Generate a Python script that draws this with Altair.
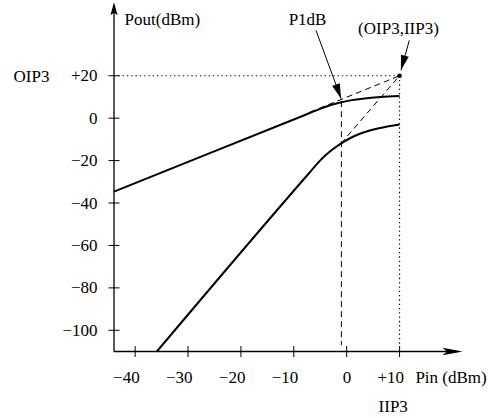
import altair as alt
import pandas as pd

# ---------------- data ----------------
fund_pin = [-44, -8, -5, -3, -1, 1, 3, 6.4, 10]
fund_pout = [-34.6, 1.4, 4.4, 6.2, 7.5, 8.5, 9.2, 10.0, 10.4]

im3_pin = [-35.9, -7, -5, -3, -1.1, 1, 3, 6.4, 10]
im3_pout = [-110, -25.6, -19.9, -15.4, -12.0, -9.0, -6.9, -4.6, -3.0]

fund_ext_pin = [-7, 10]
fund_ext_pout = [2.8, 20]
im3_ext_pin = [-1.1, 10]
im3_ext_pout = [-12.0, 20]

ip3_pin, ip3_pout = 10, 20
p1db_pin = -1.0
p1db_top, p1db_bottom = 8.0, -107.0

x_ticks = [-40, -30, -20, -10, 0, 10]
y_ticks = [-100, -80, -60, -40, -20, 0, 20]
x_min, x_max = -44, 22
y_min, y_max = -110, 55

# annotation arrows: start (label side) -> tip
p1db_arrow = [(-5.8, 41.4), (-1.05, 9.2)]
ip3_arrow = [(11.85, 36.7), (10.27, 22.6)]

texts = [
    ("Pout(dBm)", -42.0, 43.8, "left"),
    ("P1dB", -7.4, 43.8, "center"),
    ("(OIP3,IIP3)", 9.8, 39.9, "center"),
    ("OIP3", -63.0, 17.1, "left"),
    ("Pin (dBm)", 13.0, -125.0, "left"),
    ("IIP3", 8.8, -138.3, "center"),
]

FONT = "'Liberation Serif', 'Times New Roman', Times, serif"
FS = 17

xs = alt.Scale(domain=[x_min, x_max], nice=False, zero=False)
ys = alt.Scale(domain=[y_min, y_max], nice=False, zero=False)
xaxis = alt.Axis(
    values=x_ticks, domain=False, ticks=False, tickSize=0, grid=False, title=None,
    labelFont=FONT, labelFontSize=FS, labelColor="black", labelPadding=18,
    labelAlign="right", labelOffset=4,
    labelExpr="datum.value > 0 ? '+' + datum.label : datum.label",
)
yaxis = alt.Axis(
    values=y_ticks, domain=False, ticks=False, tickSize=0, grid=False, title=None,
    labelFont=FONT, labelFontSize=FS, labelColor="black", labelPadding=17,
    labelExpr="datum.value > 0 ? '+' + datum.label : datum.label",
)


def X(f):
    return alt.X(f, type="quantitative", scale=xs, axis=xaxis)


def Y(f):
    return alt.Y(f, type="quantitative", scale=ys, axis=yaxis)


def X2(f):
    return alt.X2(f)


def Y2(f):
    return alt.Y2(f)


# curves
fund_df = pd.DataFrame({"x": fund_pin, "y": fund_pout})
im3_df = pd.DataFrame({"x": im3_pin, "y": im3_pout})
fund = alt.Chart(fund_df).mark_line(color="black", strokeWidth=2, interpolate="monotone").encode(
    x=X("x"), y=Y("y"), order="x:Q")
im3 = alt.Chart(im3_df).mark_line(color="black", strokeWidth=2, interpolate="monotone").encode(
    x=X("x"), y=Y("y"), order="x:Q")

# dashed extrapolations
ext_df = pd.DataFrame({
    "x": [fund_ext_pin[0], im3_ext_pin[0]],
    "y": [fund_ext_pout[0], im3_ext_pout[0]],
    "x2": [fund_ext_pin[1], im3_ext_pin[1]],
    "y2": [fund_ext_pout[1], im3_ext_pout[1]],
})
ext = alt.Chart(ext_df).mark_rule(color="black", strokeWidth=1, strokeDash=[6, 4]).encode(
    x=X("x"), y=Y("y"), x2=X2("x2"), y2=Y2("y2"))

# vertical dashed at P1dB
p1_df = pd.DataFrame({"x": [p1db_pin], "y": [p1db_top], "y2": [p1db_bottom]})
p1 = alt.Chart(p1_df).mark_rule(color="black", strokeWidth=1, strokeDash=[6, 4]).encode(
    x=X("x"), y=Y("y"), y2=Y2("y2"))

# dotted guide lines to IP3
dot_df = pd.DataFrame({
    "x": [x_min, ip3_pin], "y": [ip3_pout, ip3_pout],
    "x2": [ip3_pin, ip3_pin], "y2": [ip3_pout, y_min],
})
dots = alt.Chart(dot_df).mark_rule(color="black", strokeWidth=1.2, strokeDash=[1.3, 3]).encode(
    x=X("x"), y=Y("y"), x2=X2("x2"), y2=Y2("y2"))

ip3_df = pd.DataFrame({"x": [ip3_pin], "y": [ip3_pout]})
ip3 = alt.Chart(ip3_df).mark_point(filled=True, color="black", opacity=1, size=22, shape="circle").encode(
    x=X("x"), y=Y("y"))

# axes lines with arrows
axl_df = pd.DataFrame({
    "x": [x_min, x_min], "y": [y_min, y_min],
    "x2": [x_min, x_max - 1], "y2": [y_max - 2, y_min],
})
axl = alt.Chart(axl_df).mark_rule(color="black", strokeWidth=1.3).encode(
    x=X("x"), y=Y("y"), x2=X2("x2"), y2=Y2("y2"))

yarrow_df = pd.DataFrame({"x": [x_min], "y": [y_max - 0.3]})
yarrow = alt.Chart(yarrow_df).mark_point(
    filled=True, color="black", opacity=1, size=169,
    shape="M0,0 L0.55,2 L0,1.65 L-0.55,2 Z").encode(x=X("x"), y=Y("y"))
xarrow_df = pd.DataFrame({"x": [x_max - 0.1], "y": [y_min]})
xarrow = alt.Chart(xarrow_df).mark_point(
    filled=True, color="black", opacity=1, size=400,
    shape="M0,0 L-2,-0.38 L-1.55,0 L-2,0.38 Z").encode(x=X("x"), y=Y("y"))

# tick marks crossing the axes
xt_df = pd.DataFrame({"x": x_ticks, "y": [y_min] * len(x_ticks)})
xt = alt.Chart(xt_df).mark_tick(orient="vertical", size=11, thickness=1, color="black", opacity=1).encode(
    x=X("x"), y=Y("y"))
yt_df = pd.DataFrame({"x": [x_min] * len(y_ticks), "y": y_ticks})
yt = alt.Chart(yt_df).mark_tick(orient="horizontal", size=11, thickness=1, color="black", opacity=1).encode(
    x=X("x"), y=Y("y"))

# annotation arrows
arr_df = pd.DataFrame({
    "x": [p1db_arrow[0][0], ip3_arrow[0][0]],
    "y": [p1db_arrow[0][1], ip3_arrow[0][1]],
    "x2": [p1db_arrow[1][0], ip3_arrow[1][0]],
    "y2": [p1db_arrow[1][1], ip3_arrow[1][1]],
})
arr = alt.Chart(arr_df).mark_rule(color="black", strokeWidth=1).encode(
    x=X("x"), y=Y("y"), x2=X2("x2"), y2=Y2("y2"))

head_shape = "M0,0 L0.27,1 L-0.27,1 Z"
h1 = alt.Chart(pd.DataFrame({"x": [p1db_arrow[1][0]], "y": [p1db_arrow[1][1]]})).mark_point(
    filled=True, color="black", opacity=1, size=900, shape=head_shape, angle=160).encode(
    x=X("x"), y=Y("y"))
h2 = alt.Chart(pd.DataFrame({"x": [ip3_arrow[1][0]], "y": [ip3_arrow[1][1]]})).mark_point(
    filled=True, color="black", opacity=1, size=900, shape=head_shape, angle=195).encode(
    x=X("x"), y=Y("y"))

# text labels
txt_layers = []
for t, x, y, al in texts:
    txt_layers.append(
        alt.Chart(pd.DataFrame({"x": [x], "y": [y], "t": [t]})).mark_text(
            font=FONT, fontSize=FS, color="black", align=al, baseline="alphabetic"
        ).encode(x=X("x"), y=Y("y"), text="t:N")
    )

chart = alt.layer(
    dots, ext, p1, fund, im3, ip3, axl, yarrow, xarrow, xt, yt, arr, h1, h2, *txt_layers
).properties(
    width=349, height=350,
    autosize=alt.AutoSizeParams(type="none"),
    padding={"left": 114, "top": 1.5, "right": 25, "bottom": 66.5},
    background="white",
).configure_view(stroke=None)

chart.save("out.html", embed_options={"renderer": "svg", "actions": False})
